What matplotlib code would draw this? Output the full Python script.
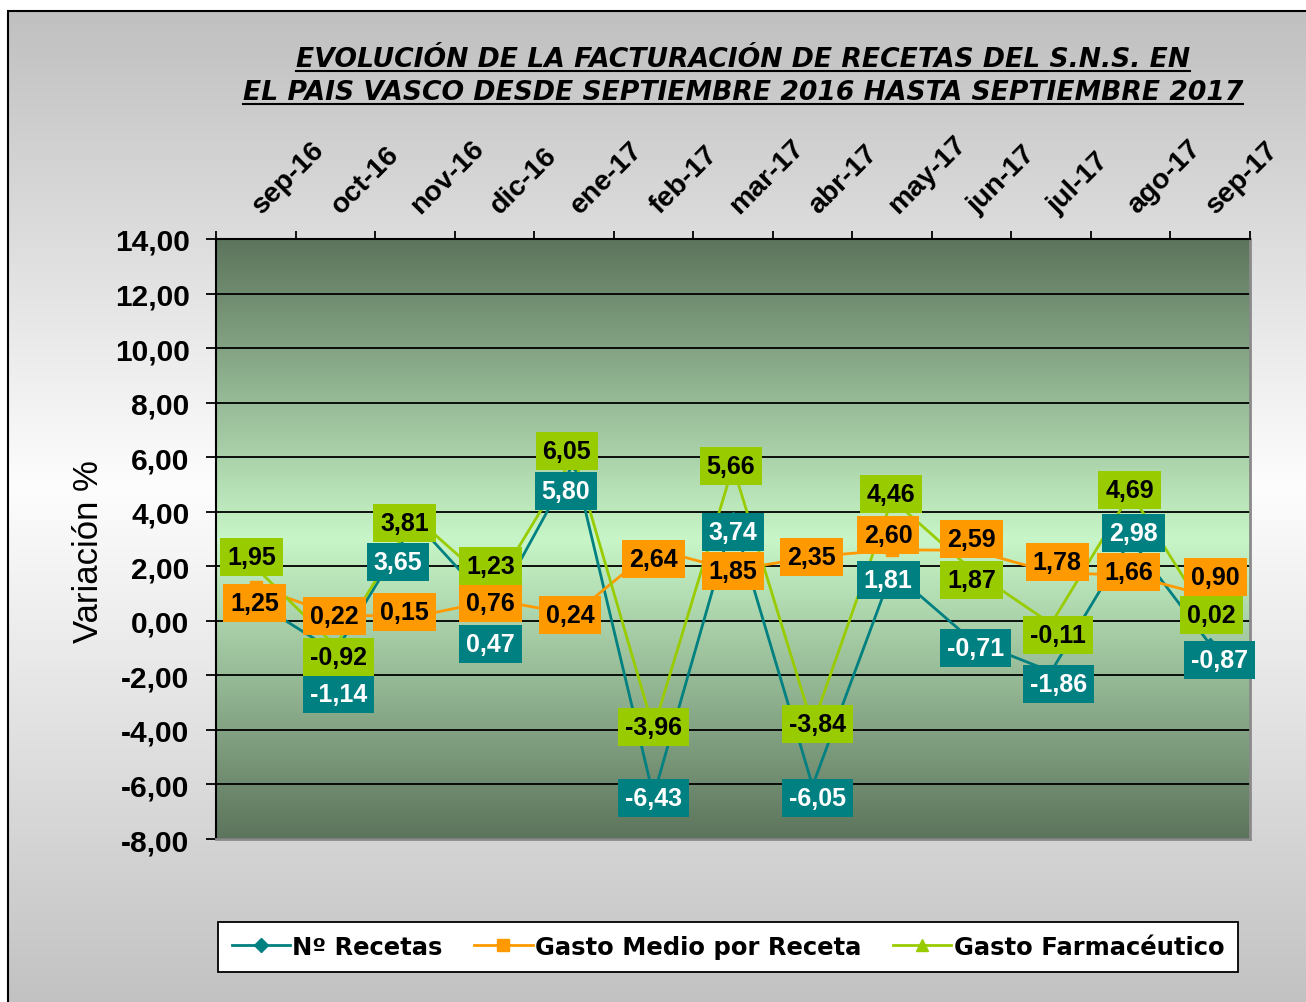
import matplotlib.pyplot as plt
import numpy as np
from matplotlib.colors import LinearSegmentedColormap
from matplotlib.lines import Line2D
from matplotlib.patches import Rectangle

plt.rcParams['font.family'] = ['Liberation Sans', 'DejaVu Sans']

# data
meses = ["sep-16", "oct-16", "nov-16", "dic-16", "ene-17", "feb-17", "mar-17",
         "abr-17", "may-17", "jun-17", "jul-17", "ago-17", "sep-17"]
recetas = [0.69, -1.14, 3.65, 0.47, 5.80, -6.43, 3.74, -6.05, 1.81, -0.71, -1.86, 2.98, -0.87]
gasto_medio = [1.25, 0.22, 0.15, 0.76, 0.24, 2.64, 1.85, 2.35, 2.60, 2.59, 1.78, 1.66, 0.90]
gasto_farma = [1.95, -0.92, 3.81, 1.23, 6.05, -3.96, 5.66, -3.84, 4.46, 1.87, -0.11, 4.69, 0.02]
y_ticks = [-8, -6, -4, -2, 0, 2, 4, 6, 8, 10, 12, 14]

# label offsets in pixels (dx, dy up), as placed in the original chart;
# None = label hidden behind another box in the original
off_recetas = [None, (3, -42), (-17, -41), (-4, -36), (-8, -28), (0, -2), (0, -13),
               (5, -12), (-4, -9), (4, -8), (7, -12), (3, 7), (9, -15)]
off_medio = [(-1, -16), (-1, -1), (-10, 5), (-4, -3), (-4, -1), (0, -10), (0, -1),
             (-1, 0), (-4, 15), (0, 11), (6, 10), (-2, 4), (5, 19)]
off_farma = [(-4, 11), (3, -11), (-10, -6), (-4, 21), (-7, 5), (0, 2), (-2, 0),
             (5, 2), (-1, 5), (0, -10), (7, -11), (-1, 3), (1, 5)]

TEAL = "#008080"
ORANGE = "#FF9900"
GREEN = "#99CC00"

W, H = 1306, 1003
fig = plt.figure(figsize=(W / 100, H / 100), dpi=100)
fig.patch.set_facecolor("white")

# grey gradient background inside the outer frame
bg = fig.add_axes([0, 0, 1, 1], zorder=-5)
bg.axis("off")
bg_cmap = LinearSegmentedColormap.from_list(
    "bg", [(0, "#C2C2C2"), (0.52, "#FDFDFD"), (1, "#C0C0C0")])
bg.imshow(np.linspace(1, 0, 256).reshape(-1, 1), cmap=bg_cmap, aspect="auto",
          extent=[8 / W, 1, 0, 1 - 12 / H], vmin=0, vmax=1)
bg.set_xlim(0, 1)
bg.set_ylim(0, 1)
fig.add_artist(Rectangle((8 / W, -0.01), 1, 1 - 12 / H + 0.01, transform=fig.transFigure,
                         fill=False, ec="black", lw=1.5))

ax = fig.add_axes([216 / W, 1 - 840 / H, (1250 - 216) / W, 600 / H])
x = np.arange(len(meses))

# green gradient plot area
pa_cmap = LinearSegmentedColormap.from_list(
    "pa", [(0, "#5C745C"), (0.5, "#C8F6C8"), (1, "#5C745C")])
ax.imshow(np.linspace(0, 1, 256).reshape(-1, 1), cmap=pa_cmap, aspect="auto",
          extent=[-0.5, 12.5, -8, 14], origin="lower", zorder=0)

for yv in y_ticks:
    ax.axhline(yv, color="black", lw=1.3, zorder=1)

ax.plot(x, recetas, color=TEAL, lw=2, marker="D", ms=7, zorder=3)
ax.plot(x, gasto_medio, color=ORANGE, lw=2, marker="s", ms=8, zorder=3)
ax.plot(x, gasto_farma, color=GREEN, lw=2, marker="^", ms=8, zorder=3)


def fmt(v):
    return f"{v:.2f}".replace(".", ",")


for vals, offs, fc, tc, z in [(recetas, off_recetas, TEAL, "white", 5),
                              (gasto_medio, off_medio, ORANGE, "black", 6),
                              (gasto_farma, off_farma, GREEN, "black", 7)]:
    for i, v in enumerate(vals):
        if offs[i] is None:
            continue
        ax.annotate(fmt(v), (i, v), xytext=offs[i], textcoords="offset pixels",
                    ha="center", va="center", fontsize=18, fontweight="bold", color=tc,
                    bbox=dict(boxstyle="square,pad=0.28", fc=fc, ec="none"), zorder=z)

ax.set_xlim(-0.5, 12.5)
ax.set_ylim(-8, 14)
ax.set_yticks(y_ticks)
ax.set_yticklabels([fmt(v) for v in y_ticks], fontsize=21.5, fontweight="bold")
ax.tick_params(axis="y", direction="out", length=7, width=1.3, pad=12)

# category boundaries as ticks on top, month names above them
ax.xaxis.set_ticks_position("top")
ax.set_xticks(np.arange(-0.5, 13, 1))
ax.set_xticklabels([])
ax.tick_params(axis="x", direction="out", length=6, width=1.3, top=True, bottom=False,
               labeltop=False, labelbottom=False)
for i, mes in enumerate(meses):
    ax.annotate(mes, (i, 1), xycoords=("data", "axes fraction"), xytext=(10, 21),
                textcoords="offset pixels", rotation=45, rotation_mode="anchor",
                ha="left", va="bottom", fontsize=20.5, fontweight="bold",
                annotation_clip=False)

for side in ["left", "top"]:
    ax.spines[side].set_color("black")
    ax.spines[side].set_linewidth(1.5)
for side in ["right", "bottom"]:
    ax.spines[side].set_color("#8A8A8A")
    ax.spines[side].set_linewidth(2)

fig.text(88 / W, 1 - 552 / H, "Variación %", rotation=90, ha="center", va="center", fontsize=25)

# title, underlined
t1 = fig.text(743 / W, 1 - 67 / H, "EVOLUCIÓN DE LA FACTURACIÓN DE RECETAS DEL S.N.S. EN",
              ha="center", va="baseline", fontsize=19.2, fontweight="bold", style="italic",
              family="DejaVu Sans")
t2 = fig.text(743 / W, 1 - 100 / H, "EL PAIS VASCO DESDE SEPTIEMBRE 2016 HASTA SEPTIEMBRE 2017",
              ha="center", va="baseline", fontsize=19.2, fontweight="bold", style="italic",
              family="DejaVu Sans")
fig.canvas.draw()
renderer = fig.canvas.get_renderer()
for t, yb in [(t1, 67), (t2, 100)]:
    bb = t.get_window_extent(renderer)
    yl = 1 - (yb + 5) / H
    fig.add_artist(Line2D([bb.x0 / W, bb.x1 / W], [yl, yl], transform=fig.transFigure,
                          color="black", lw=1.5))

handles = [Line2D([], [], color=TEAL, lw=2, marker="D", ms=7),
           Line2D([], [], color=ORANGE, lw=2, marker="s", ms=8),
           Line2D([], [], color=GREEN, lw=2, marker="^", ms=8)]
leg = fig.legend(handles, ["Nº Recetas", "Gasto Medio por Receta", "Gasto Farmacéutico"],
                 loc="center", bbox_to_anchor=(728 / W, 1 - 948 / H), ncol=3,
                 fancybox=False, framealpha=1, edgecolor="black",
                 prop={"size": 17.5, "weight": "bold", "family": "DejaVu Sans"},
                 handlelength=2.4, handletextpad=0.1, columnspacing=1.3, borderpad=0.55,
                 borderaxespad=0)
leg.get_frame().set_linewidth(1.3)

fig.savefig("out.png", dpi=100)
